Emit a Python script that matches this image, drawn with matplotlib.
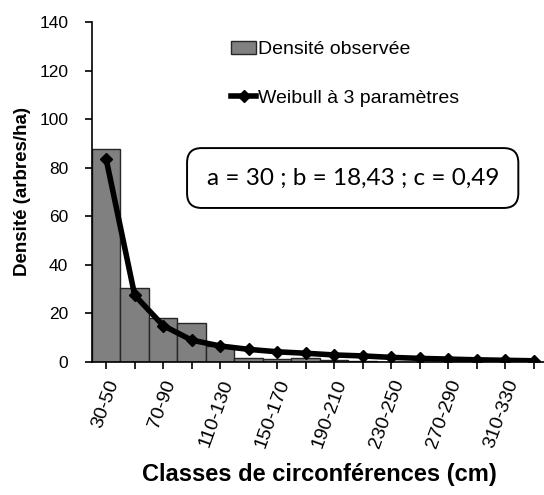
import numpy as np
import matplotlib.pyplot as plt

plt.rcParams['font.family'] = ['Liberation Sans', 'DejaVu Sans']

# circumference classes (cm)
classes = ["30-50", "50-70", "70-90", "90-110", "110-130", "130-150", "150-170", "170-190",
           "190-210", "210-230", "230-250", "250-270", "270-290", "290-310", "310-330", "330-350"]
# observed density (trees/ha)
observed = [87.5, 30.5, 18, 16, 6.5, 1.5, 1.2, 1.8, 1.0, 0.5, 0, 0, 0, 0, 0, 0]
# fitted 3-parameter Weibull
weibull = [83.5, 27.5, 15, 9, 6.6, 5.2, 4.2, 3.6, 2.9, 2.5, 1.9, 1.5, 1.2, 0.9, 0.7, 0.5]

fig = plt.figure(figsize=(5.44, 4.95), dpi=100)
ax = fig.add_axes([0.169, 0.2687, 0.838, 0.687])

x = np.arange(len(classes))
bars = ax.bar(x, observed, width=1.0, color='#808080', edgecolor='#262626', linewidth=1.0,
              label="Densité observée")
line, = ax.plot(x, weibull, color='black', linewidth=4, marker='D', markersize=6.5,
                label="Weibull à 3 paramètres")

ax.set_xlim(-0.5, len(classes) - 0.5)
ax.set_ylim(0, 140)
ax.set_yticks(range(0, 141, 20))
ax.set_xticks(x)
ax.set_xticklabels([c if i % 2 == 0 else "" for i, c in enumerate(classes)],
                   rotation=70, ha='right', va='top', rotation_mode='anchor')

for s in ['top', 'right']:
    ax.spines[s].set_visible(False)
for s in ['left', 'bottom']:
    ax.spines[s].set_linewidth(1.2)
ax.tick_params(axis='both', direction='out', length=5, width=1.2)
ax.tick_params(axis='y', pad=12, labelsize=12.5)
ax.tick_params(axis='x', pad=6, labelsize=14)

ax.set_ylabel("Densité (arbres/ha)", fontsize=13.5, fontweight='bold', labelpad=6)
ax.set_xlabel("Classes de circonférences (cm)", fontsize=17, fontweight='bold', labelpad=9)

ax.legend([bars, line], ["Densité observée", "Weibull à 3 paramètres"],
          loc='upper left', bbox_to_anchor=(0.305, 0.945), frameon=False, fontsize=14,
          borderpad=0, borderaxespad=0, handlelength=1.3, handletextpad=0.1,
          labelspacing=1.6)

ax.text(0.572, 0.541, "a = 30 ; b = 18,43 ; c = 0,49", transform=ax.transAxes,
        fontsize=17.5, family=['Lato', 'DejaVu Sans'], ha='center', va='center',
        bbox=dict(boxstyle='round,pad=0.8,rounding_size=0.6', facecolor='white',
                  edgecolor='black', linewidth=1.4))

plt.savefig("out.png", dpi=100)
